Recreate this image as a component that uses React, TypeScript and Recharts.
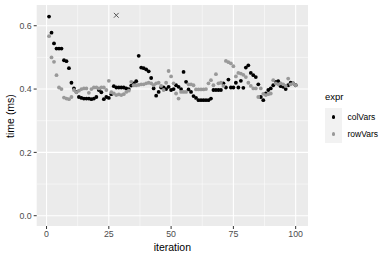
import { CartesianGrid, ReferenceLine, Scatter, ScatterChart, XAxis, YAxis } from "recharts";

const iterations = Array.from({ length: 100 }, (_, i) => i + 1);

const colVars = [
  0.629, 0.578, 0.544, 0.528, 0.528, 0.528, 0.491, 0.488, 0.466, 0.42,
  0.402, 0.391, 0.375, 0.372, 0.37, 0.37, 0.37, 0.368, 0.37, 0.375,
  0.397, 0.39, 0.368, 0.375, 0.372, 0.384, 0.409, 0.405, 0.405, 0.405,
  0.405, 0.402, 0.4, 0.411, 0.418, 0.425, 0.505, 0.468, 0.466, 0.462,
  0.456, 0.435, 0.402, 0.379, 0.391, 0.405, 0.405, 0.4, 0.407, 0.397,
  0.4, 0.412, 0.407, 0.4, 0.454, 0.423, 0.399, 0.391, 0.378, 0.372,
  0.365, 0.365, 0.365, 0.365, 0.365, 0.37, 0.397, 0.397, 0.397, 0.397,
  0.418, 0.405, 0.43, 0.405, 0.405, 0.42, 0.405, 0.426, 0.404, 0.468,
  0.475, 0.451, 0.444, 0.438, 0.415, 0.375, 0.365, 0.386, 0.397, 0.402,
  0.412, 0.423, 0.425, 0.409, 0.407, 0.4, 0.412, 0.42, 0.418, 0.412,
];

const rowVars = [
  0.567, 0.5, 0.486, 0.444, 0.405, 0.4, 0.373, 0.37, 0.368, 0.375,
  0.397, 0.39, 0.395, 0.4, 0.402, 0.402, 0.388, 0.4, 0.405, 0.405,
  0.402, 0.405, 0.405, 0.397, 0.426, 0.39, 0.386, 0.381, 0.383, 0.381,
  0.384, 0.391, 0.395, 0.423, 0.412, 0.412, 0.413, 0.415, 0.415, 0.418,
  0.42, 0.418, 0.412, 0.418, 0.42, 0.41, 0.397, 0.42, 0.457, 0.44,
  0.418, 0.386, 0.37, 0.391, 0.391, 0.391, 0.415, 0.415, 0.412, 0.399,
  0.399, 0.399, 0.399, 0.4, 0.418, 0.428, 0.412, 0.447, 0.418, 0.42,
  0.41, 0.489, 0.485, 0.481, 0.472, 0.44, 0.451, 0.449, 0.445, 0.438,
  0.42, 0.41, 0.402, 0.402, 0.375, 0.402, 0.385, 0.381, 0.384, 0.386,
  0.428, 0.418, 0.415, 0.418, 0.415, 0.41, 0.433, 0.415, 0.418, 0.412,
];

// single point drawn with an "x"
const outlier = [{ iteration: 28, time: 0.633 }];

const seriesNames = ["colVars", "rowVars"];
const seriesColors = ["#000000", "#999999"];

const xTicks = [0, 25, 50, 75, 100];
const xMinor = [12.5, 37.5, 62.5, 87.5];
const yTicks = [0, 0.2, 0.4, 0.6];
const yMinor = [0.1, 0.3, 0.5];

const colData = iterations.map((it, i) => ({ iteration: it, time: colVars[i] }));
const rowData = iterations.map((it, i) => ({ iteration: it, time: rowVars[i] }));

const font = "Liberation Sans, Arial, sans-serif";
const tickStyle = { fill: "#4D4D4D", fontSize: 8.8, fontFamily: font };

const Dot = (color: string) => (props: any) => (
  <circle cx={props.cx} cy={props.cy} r={1.9} fill={color} />
);

const Cross = (props: any) => {
  const { cx, cy } = props;
  const s = 2.4;
  return (
    <g stroke="#555" strokeWidth={1}>
      <line x1={cx - s} y1={cy - s} x2={cx + s} y2={cy + s} />
      <line x1={cx - s} y1={cy + s} x2={cx + s} y2={cy - s} />
    </g>
  );
};

function LegendBox() {
  return (
    <div style={{ position: "absolute", left: 325, top: 90, fontFamily: font }}>
      <div style={{ fontSize: 9.5, color: "#000", height: 18, lineHeight: "14px" }}>expr</div>
      {seriesNames.map((name, i) => (
        <div key={name} style={{ display: "flex", alignItems: "center", height: 17.5 }}>
          <div style={{ width: 17, height: 17.5, background: "#F2F2F2", position: "relative" }}>
            <div
              style={{
                position: "absolute",
                left: 6.6,
                top: 6.9,
                width: 3.8,
                height: 3.8,
                borderRadius: "50%",
                background: seriesColors[i],
              }}
            />
          </div>
          <span style={{ fontSize: 8.5, marginLeft: 5.5, color: "#000" }}>{name}</span>
        </div>
      ))}
    </div>
  );
}

export default function App() {
  return (
    <div style={{ position: "absolute", left: 0, top: 0, width: 390, height: 260, background: "#fff" }}>
      <ScatterChart width={390} height={260} margin={{ top: 5, right: 82, bottom: 0, left: 0 }}>
        <CartesianGrid fill="#EBEBEB" stroke="none" horizontal={false} vertical={false} />
        {xMinor.map((v) => (
          <ReferenceLine key={"xm" + v} x={v} stroke="#FFFFFF" strokeWidth={0.5} />
        ))}
        {yMinor.map((v) => (
          <ReferenceLine key={"ym" + v} y={v} stroke="#FFFFFF" strokeWidth={0.5} />
        ))}
        {xTicks.map((v) => (
          <ReferenceLine key={"x" + v} x={v} stroke="#FFFFFF" strokeWidth={1.1} />
        ))}
        {yTicks.map((v) => (
          <ReferenceLine key={"y" + v} y={v} stroke="#FFFFFF" strokeWidth={1.1} />
        ))}
        <XAxis
          type="number"
          dataKey="iteration"
          domain={[-3.95, 104.95]}
          ticks={xTicks}
          axisLine={false}
          tickSize={3}
          tickMargin={2}
          tickLine={{ stroke: "#333333" }}
          tick={tickStyle}
          height={34}
          allowDataOverflow
        />
        <YAxis
          type="number"
          dataKey="time"
          domain={[-0.0325, 0.6655]}
          ticks={yTicks}
          tickFormatter={(v: number) => v.toFixed(1)}
          axisLine={false}
          tickSize={3}
          tickMargin={2}
          tickLine={{ stroke: "#333333" }}
          tick={tickStyle}
          width={36.7}
          allowDataOverflow
        />
        <Scatter name={seriesNames[0]} data={colData} fill={seriesColors[0]} shape={Dot(seriesColors[0])} isAnimationActive={false} />
        <Scatter name={seriesNames[1]} data={rowData} fill={seriesColors[1]} shape={Dot(seriesColors[1])} isAnimationActive={false} />
        <Scatter name="outlier" data={outlier} fill="#555" shape={Cross} legendType="none" isAnimationActive={false} />
      </ScatterChart>
      <LegendBox />
      <div
        style={{
          position: "absolute",
          left: 36.7,
          width: 271.3,
          top: 241,
          textAlign: "center",
          fontFamily: font,
          fontSize: 10.5,
          color: "#000",
        }}
      >
        iteration
      </div>
      <div
        style={{
          position: "absolute",
          left: 10,
          top: 115.5,
          transform: "translate(-50%, -50%) rotate(-90deg)",
          whiteSpace: "nowrap",
          fontFamily: font,
          fontSize: 10.5,
          color: "#000",
        }}
      >
        time (ms)
      </div>
    </div>
  );
}
